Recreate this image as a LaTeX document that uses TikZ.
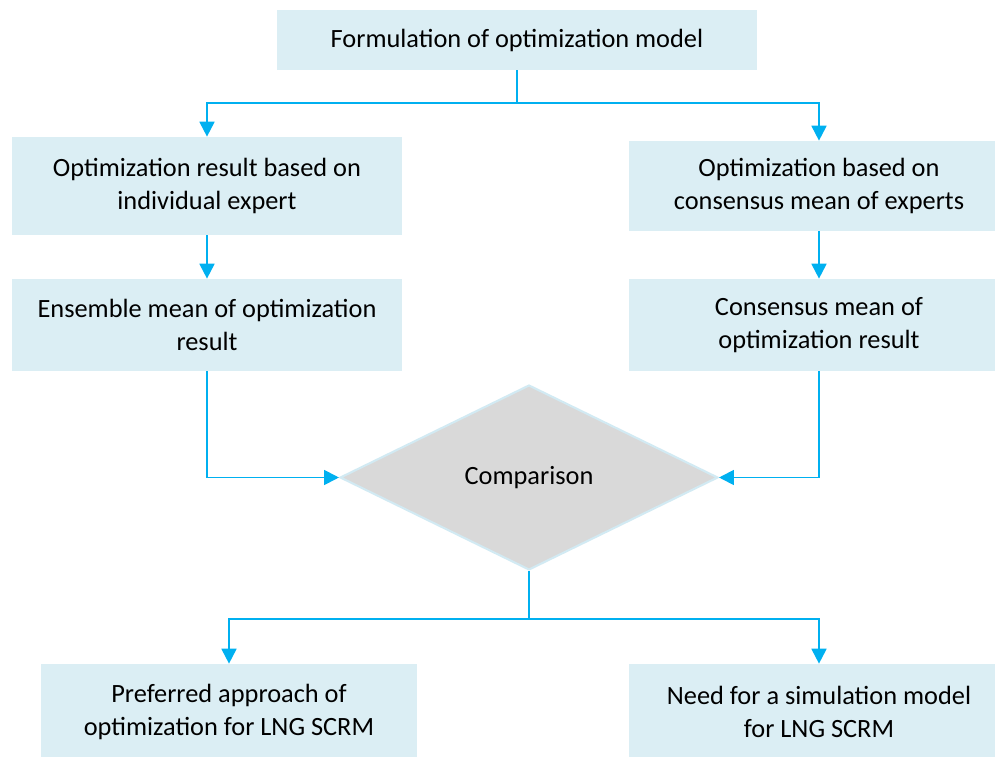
\documentclass[tikz,border=0pt]{standalone}
\usepackage{fontspec}
\setmainfont{Carlito}
\usetikzlibrary{arrows.meta,shapes.geometric}

\definecolor{boxblue}{HTML}{DBEEF4}
\definecolor{linkblue}{HTML}{00B0F0}
\definecolor{diagrey}{HTML}{D9D9D9}
\definecolor{diaedge}{HTML}{D2EAF3}

\tikzset{
  box/.style={fill=boxblue, align=center, inner sep=0pt,
    font=\fontsize{15}{18.7}\selectfont},
  decision/.style={diamond, fill=diagrey, draw=diaedge, line width=1.2pt,
    inner sep=0pt, minimum width=7.56cm, minimum height=3.7cm,
    font=\fontsize{15}{18.7}\selectfont},
  arr/.style={draw=linkblue, line width=1.1pt,
    -{Triangle[length=8.5pt,width=8.5pt]}}
}

\begin{document}
\begin{tikzpicture}[x=0.02cm,y=-0.02cm]
\useasboundingbox (0,0) rectangle (995,757);

% boxes
\node[box, minimum width=9.6cm, minimum height=1.2cm] (form) at (517,40) {Formulation of optimization model};
\node[box, minimum width=7.82cm, minimum height=1.96cm] (optind) at (207,186) {Optimization result based on\\individual expert};
\node[box, minimum width=7.6cm, minimum height=1.8cm] (optcon) at (819,186) {Optimization based on\\consensus mean of experts};
\node[box, minimum width=7.82cm, minimum height=1.84cm] (ensmean) at (207,325) {Ensemble mean of optimization\\result};
\node[box, minimum width=7.6cm, minimum height=1.84cm] (conmean) at (819,325) {Consensus mean of\\optimization result};
\node[decision] (comp) at (529,477.5) {Comparison};
\node[box, minimum width=7.54cm, minimum height=1.92cm] (pref) at (229,712) {Preferred approach of\\optimization for LNG SCRM};
\node[box, minimum width=7.6cm, minimum height=1.92cm] (need) at (819,712) {Need for a simulation model\\for LNG SCRM};

% arrows
\draw[arr] (form.south) -- +(0,33) -| (optind.north);
\draw[arr] (form.south) -- +(0,33) -| (optcon.north);
\draw[arr] (optind) -- (ensmean);
\draw[arr] (optcon) -- (conmean);
\draw[arr] (ensmean.south) |- (comp.west);
\draw[arr] (conmean.south) |- (comp.east);
\draw[arr] (comp.south) -- +(0,48) -| (pref.north);
\draw[arr] (comp.south) -- +(0,48) -| (need.north);
\end{tikzpicture}
\end{document}
